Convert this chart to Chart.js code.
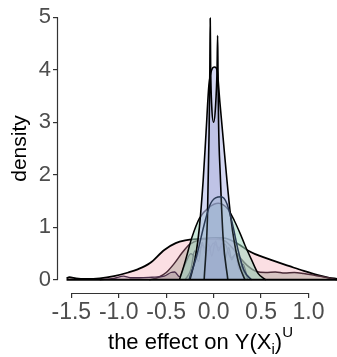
<!DOCTYPE html>
<html>
<head>
<meta charset="utf-8">
<script src="https://cdn.jsdelivr.net/npm/chart.js@4"></script>
<style>
  html, body { margin: 0; padding: 0; background: #fff; }
  #wrap { width: 337px; height: 357px; position: relative; }
</style>
</head>
<body>
<div id="wrap"><canvas id="chart"></canvas></div>
<script>
// tick labels
const xTicks = [-1.5, -1.0, -0.5, 0.0, 0.5, 1.0];
const yTicks = [0, 1, 2, 3, 4, 5];

// broad pink density
const pinkX = [-1.55, -1.52, -1.45, -1.35, -1.2, -1.05, -0.9, -0.8, -0.67, -0.52, -0.4, -0.3, -0.15, 0.0, 0.1, 0.2, 0.28, 0.36, 0.48, 0.62, 0.8, 0.95, 1.1, 1.22, 1.3];
const pinkY = [0.03, 0.05, 0.03, 0.02, 0.03, 0.07, 0.14, 0.2, 0.32, 0.57, 0.7, 0.75, 0.78, 0.8, 0.8, 0.74, 0.66, 0.56, 0.46, 0.37, 0.26, 0.17, 0.09, 0.04, 0.02];

// grey density, maroon outline
const greyX = [-0.68, -0.58, -0.5, -0.42, -0.33, -0.25, -0.15, 0.0, 0.12, 0.2, 0.27, 0.35, 0.45, 0.55, 0.65, 0.75, 0.85, 0.95, 1.05, 1.15, 1.25, 1.3];
const greyY = [0.0, 0.05, 0.14, 0.3, 0.52, 0.68, 0.76, 0.78, 0.74, 0.6, 0.44, 0.28, 0.16, 0.14, 0.15, 0.13, 0.14, 0.12, 0.09, 0.06, 0.02, 0.0];

// low left grey density with small bumps
const tailX = [-1.2, -1.05, -0.95, -0.88, -0.78, -0.65, -0.52, -0.45, -0.41, -0.36, -0.3, -0.24, -0.18, -0.12, -0.06, 0.0, 0.06, 0.12, 0.18, 0.25, 0.32, 0.4];
const tailY = [0.0, 0.03, 0.07, 0.04, 0.04, 0.05, 0.07, 0.14, 0.15, 0.06, 0.3, 0.5, 0.42, 0.66, 0.55, 0.7, 0.6, 0.68, 0.42, 0.5, 0.15, 0.0];

// jagged purple density
const purpX = [-0.3, -0.24, -0.2, -0.16, -0.12, -0.09, -0.05, -0.02, 0.02, 0.05, 0.09, 0.12, 0.16, 0.19, 0.23, 0.27, 0.31, 0.36];
const purpY = [0.0, 0.2, 0.55, 0.35, 0.72, 0.5, 0.68, 0.45, 0.74, 0.55, 0.7, 0.4, 0.62, 0.38, 0.5, 0.2, 0.3, 0.0];

// narrow central band density
const bandX = [-0.14, -0.1, -0.06, 0.0, 0.06, 0.1, 0.14];
const bandY = [0.0, 0.7, 0.78, 0.8, 0.78, 0.7, 0.0];

// green density
const greenX = [-0.36, -0.3, -0.23, -0.15, -0.05, 0.05, 0.15, 0.22, 0.28, 0.33, 0.4, 0.47, 0.55];
const greenY = [0.0, 0.35, 0.8, 1.17, 1.38, 1.46, 1.35, 1.12, 0.88, 0.66, 0.38, 0.12, 0.0];

// steel blue density
const steelX = [-0.26, -0.18, -0.1, -0.04, 0.02, 0.08, 0.14, 0.2, 0.26, 0.32, 0.4];
const steelY = [0.0, 0.45, 1.05, 1.42, 1.56, 1.58, 1.45, 1.05, 0.55, 0.18, 0.0];

// tall lavender density
const lavX = [-0.25, -0.19, -0.15, -0.11, -0.08, -0.05, -0.02, 0.01, 0.035, 0.065, 0.1, 0.14, 0.18, 0.22, 0.27, 0.33];
const lavY = [0.0, 0.45, 1.0, 1.9, 2.8, 3.7, 4.0, 4.05, 4.0, 3.4, 2.7, 1.9, 1.2, 0.7, 0.28, 0.0];

// narrow spiky density
const spikeX = [-0.1, -0.065, -0.048, -0.04, -0.036, -0.031, -0.02, 0.0, 0.02, 0.036, 0.042, 0.046, 0.052, 0.07, 0.1, 0.15];
const spikeY = [0.0, 1.2, 2.8, 4.0, 4.98, 4.0, 3.3, 3.0, 3.3, 4.0, 4.65, 4.0, 3.0, 2.0, 0.8, 0.0];

function pts(xs, ys) {
  return xs.map((x, i) => ({ x: x, y: ys[i] }));
}

function dens(label, xs, ys, fill, line, width, order) {
  return {
    label: label,
    data: pts(xs, ys),
    backgroundColor: fill,
    borderColor: line,
    borderWidth: width,
    fill: 'origin',
    pointRadius: 0,
    cubicInterpolationMode: 'monotone',
    order: order
  };
}

const FONT = '"Liberation Sans", Arial, sans-serif';

const cappedAxes = {
  id: 'cappedAxes',
  afterDatasetsDraw(chart) {
    const { ctx, scales: { x, y } } = chart;
    // baseline at density 0
    ctx.save();
    ctx.strokeStyle = '#000';
    ctx.lineWidth = 2;
    ctx.beginPath();
    ctx.moveTo(x.getPixelForValue(pinkX[0]), y.getPixelForValue(0));
    ctx.lineTo(x.getPixelForValue(pinkX[pinkX.length - 1]), y.getPixelForValue(0));
    ctx.stroke();
    ctx.restore();
  },
  afterDraw(chart) {
    const { ctx, scales: { x, y }, chartArea } = chart;
    ctx.save();
    ctx.strokeStyle = '#333';
    ctx.lineWidth = 1.2;
    ctx.beginPath();
    ctx.moveTo(x.getPixelForValue(xTicks[0]), chartArea.bottom + 0.5);
    ctx.lineTo(x.getPixelForValue(xTicks[xTicks.length - 1]), chartArea.bottom + 0.5);
    ctx.moveTo(chartArea.left - 0.5, y.getPixelForValue(yTicks[0]));
    ctx.lineTo(chartArea.left - 0.5, y.getPixelForValue(yTicks[yTicks.length - 1]));
    ctx.stroke();

    // x title with subscript / superscript
    const big = '22px ' + FONT;
    const small = '15px ' + FONT;
    const base = 'the effect on Y(X';
    ctx.fillStyle = '#000';
    ctx.textBaseline = 'alphabetic';
    ctx.font = big;
    const w1 = ctx.measureText(base).width;
    const wp = ctx.measureText(')').width;
    ctx.font = small;
    const wi = ctx.measureText('i').width;
    const wu = ctx.measureText('U').width;
    const total = w1 + wi + wp + wu;
    let cx = (chartArea.left + chartArea.right) / 2 + 3 - total / 2;
    const by = 349;
    ctx.font = big;
    ctx.fillText(base, cx, by);
    cx += w1;
    ctx.font = small;
    ctx.fillText('i', cx, by + 5);
    cx += wi;
    ctx.font = big;
    ctx.fillText(')', cx, by);
    cx += wp;
    ctx.font = small;
    ctx.fillText('U', cx, by - 12);
    ctx.restore();
  }
};

new Chart(document.getElementById('chart'), {
  type: 'line',
  data: {
    datasets: [
      dens('spike', spikeX, spikeY, 'rgba(150, 155, 205, 0.35)', '#000', 1.6, 2),
      dens('lavender', lavX, lavY, 'rgba(185, 190, 235, 0.6)', '#000', 1.6, 3),
      dens('steel', steelX, steelY, 'rgba(120, 160, 180, 0.2)', '#2b3a55', 1.5, 1),
      dens('green', greenX, greenY, 'rgba(160, 215, 192, 0.55)', '#000', 1.5, 4),
      dens('band', bandX, bandY, 'rgba(200, 180, 200, 0.5)', 'rgba(0,0,0,0)', 0, 5),
      dens('purple', purpX, purpY, 'rgba(130, 95, 130, 0.3)', '#4a2d4a', 1.3, 6),
      dens('tail', tailX, tailY, 'rgba(140, 120, 140, 0.3)', '#4a2d4a', 1.3, 7),
      dens('grey', greyX, greyY, 'rgba(150, 145, 130, 0.35)', '#4a2a36', 1.5, 8),
      dens('pink', pinkX, pinkY, 'rgba(245, 175, 186, 0.4)', '#000', 1.8, 9)
    ]
  },
  plugins: [cappedAxes],
  options: {
    responsive: true,
    maintainAspectRatio: false,
    animation: false,
    layout: { padding: { top: 4, right: 0, left: 0, bottom: 0 } },
    plugins: {
      legend: { display: false },
      tooltip: { enabled: false }
    },
    scales: {
      x: {
        type: 'linear',
        min: -1.64,
        max: 1.3,
        afterBuildTicks: s => { s.ticks = xTicks.map(v => ({ value: v })); },
        afterFit: s => { s.height = 64; s.paddingLeft = 0; s.paddingRight = 0; },
        border: { display: false },
        grid: { drawOnChartArea: false, drawTicks: true, tickLength: 5, color: '#333', lineWidth: 1.2 },
        ticks: {
          color: '#4d4d4d',
          padding: 1,
          maxRotation: 0,
          autoSkip: false,
          font: { family: FONT, size: 23 },
          callback: v => v.toFixed(1)
        }
      },
      y: {
        min: -0.25,
        max: 5.25,
        afterBuildTicks: s => { s.ticks = yTicks.map(v => ({ value: v })); },
        afterFit: s => { s.width = 58; s.paddingTop = 0; s.paddingBottom = 0; },
        border: { display: false },
        grid: { drawOnChartArea: false, drawTicks: true, tickLength: 5, color: '#333', lineWidth: 1.2 },
        title: {
          display: true,
          text: 'density',
          color: '#000',
          padding: { top: 8, bottom: 0 },
          font: { family: FONT, size: 21 }
        },
        ticks: {
          color: '#4d4d4d',
          padding: 2,
          font: { family: FONT, size: 22 }
        }
      }
    }
  }
});
</script>
</body>
</html>
